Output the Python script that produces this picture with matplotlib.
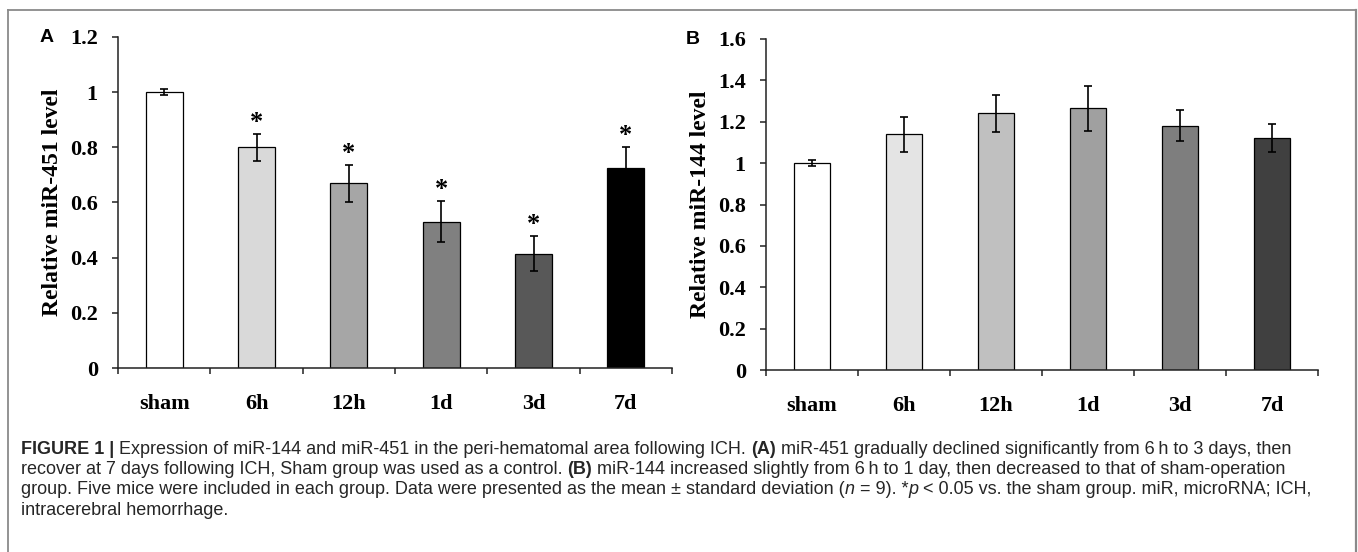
import numpy as np
import matplotlib
matplotlib.use("Agg")
import matplotlib.pyplot as plt
from matplotlib.lines import Line2D

# ---------------- data ----------------
categories = ["sham", "6h", "12h", "1d", "3d", "7d"]

mir451_mean = [1.00, 0.80, 0.67, 0.53, 0.415, 0.725]
mir451_err = [0.011, 0.048, 0.067, 0.075, 0.065, 0.078]
mir451_sig = [False, True, True, True, True, True]
mir451_colors = ["#ffffff", "#d9d9d9", "#a6a6a6", "#808080", "#585858", "#000000"]
mir451_yticks = [0, 0.2, 0.4, 0.6, 0.8, 1.0, 1.2]

mir144_mean = [1.00, 1.14, 1.24, 1.265, 1.18, 1.12]
mir144_err = [0.015, 0.084, 0.09, 0.11, 0.075, 0.067]
mir144_sig = [False, False, False, False, False, False]
mir144_colors = ["#ffffff", "#e4e4e4", "#c0c0c0", "#a0a0a0", "#7e7e7e", "#404040"]
mir144_yticks = [0, 0.2, 0.4, 0.6, 0.8, 1.0, 1.2, 1.4, 1.6]

caption_lines = [
    [("FIGURE 1 | ", "bold", "normal"),
     ("Expression of miR-144 and miR-451 in the peri-hematomal area following ICH. ", "normal", "normal"),
     ("(A)", "bold", "normal"),
     (" miR-451 gradually declined significantly from 6\u2009h to 3 days, then", "normal", "normal")],
    [("recover at 7 days following ICH, Sham group was used as a control. ", "normal", "normal"),
     ("(B)", "bold", "normal"),
     (" miR-144 increased slightly from 6\u2009h to 1 day, then decreased to that of sham-operation", "normal", "normal")],
    [("group. Five mice were included in each group. Data were presented as the mean \u00b1 standard deviation (", "normal", "normal"),
     ("n", "normal", "italic"),
     (" = 9). *", "normal", "normal"),
     ("p", "normal", "italic"),
     (" < 0.05 vs. the sham group. miR, microRNA; ICH,", "normal", "normal")],
    [("intracerebral hemorrhage.", "normal", "normal")],
]

# ---------------- figure ----------------
W, H = 1358, 552
fig = plt.figure(figsize=(W / 100, H / 100), dpi=100)
fig.patch.set_facecolor("white")

SERIF = ["Liberation Serif", "DejaVu Serif"]
SANS = ["Liberation Sans", "DejaVu Sans"]


def px_rect(l, r, top, bottom):
    return [l / W, 1 - bottom / H, (r - l) / W, (bottom - top) / H]


def draw_panel(rect, means, errs, sig, colors, yticks, ylabel, letter, letter_xy):
    ax = fig.add_axes(rect)
    x = np.arange(len(categories))
    ax.bar(x, means, width=0.4, color=colors, edgecolor="black", linewidth=0.9,
           yerr=errs, error_kw=dict(ecolor="black", elinewidth=1.2, capsize=3, capthick=1.2),
           zorder=2)
    for i, (m, e, s) in enumerate(zip(means, errs, sig)):
        if s:
            ax.annotate("*", xy=(i, m + e), xytext=(0, 0), textcoords="offset points",
                        ha="center", va="bottom", fontsize=19, fontweight="bold",
                        family=SERIF)
    ax.set_xlim(-0.5, len(categories) - 0.5)
    ax.set_ylim(yticks[0], yticks[-1])
    ax.set_yticks(yticks)
    ax.set_yticklabels([f"{v:g}" for v in yticks], family=SERIF, fontweight="bold", fontsize=16)
    ax.set_xticks(np.arange(-0.5, len(categories), 1.0))
    ax.set_xticklabels([])
    ax.set_xticks(x, minor=True)
    ax.set_xticklabels(categories, minor=True, family=SERIF, fontweight="bold", fontsize=16)
    ax.tick_params(axis="x", which="minor", length=0, pad=19)
    ax.tick_params(axis="x", which="major", direction="out", length=4.5, width=1.1, color="#222222")
    ax.tick_params(axis="y", direction="out", length=4.5, width=1.1, color="#222222", pad=10)
    for side in ("top", "right"):
        ax.spines[side].set_visible(False)
    for side in ("left", "bottom"):
        ax.spines[side].set_linewidth(1.1)
        ax.spines[side].set_color("#222222")
    ax.set_ylabel(ylabel, family=SERIF, fontweight="bold", fontsize=17)
    ax.yaxis.set_label_coords(-0.1, 0.5)
    ax.set_facecolor("white")
    fig.text(letter_xy[0] / W, 1 - letter_xy[1] / H, letter, family=SANS, fontweight="bold",
             fontsize=14, ha="center", va="center")
    return ax


draw_panel(px_rect(118, 672, 37, 368), mir451_mean, mir451_err, mir451_sig, mir451_colors,
           mir451_yticks, "Relative miR-451 level", "A", (47, 38))
draw_panel(px_rect(766, 1318, 39, 370), mir144_mean, mir144_err, mir144_sig, mir144_colors,
           mir144_yticks, "Relative miR-144 level", "B", (693, 40))

# ---------------- border ----------------
bc = "#8a8a8a"
fig.add_artist(Line2D([8 / W, 1356 / W], [1 - 10 / H, 1 - 10 / H], color=bc, lw=1.3,
                      transform=fig.transFigure))
fig.add_artist(Line2D([8 / W, 8 / W], [1 - 10 / H, 0], color=bc, lw=1.3, transform=fig.transFigure))
fig.add_artist(Line2D([1356 / W, 1356 / W], [1 - 10 / H, 0], color=bc, lw=1.6,
                      transform=fig.transFigure))

# ---------------- caption ----------------
renderer = fig.canvas.get_renderer()
cap_color = "#262626"


def line_width(runs, size):
    total = 0
    for txt, wt, st in runs:
        t = fig.text(0, 0, txt, family=SANS, fontweight=wt, fontstyle=st, fontsize=size)
        total += t.get_window_extent(renderer).width
        t.remove()
    return total


target = 1293 - 21
base = 10.0
size = base * target / line_width(caption_lines[0], base)

y_lines = [449, 469.5, 490, 510.5]
for runs, yp in zip(caption_lines, y_lines):
    xp = 21.0
    for txt, wt, st in runs:
        t = fig.text(xp / W, 1 - yp / H, txt, family=SANS, fontweight=wt, fontstyle=st,
                     fontsize=size, color=cap_color, ha="left", va="center")
        xp += t.get_window_extent(renderer).width

fig.savefig("out.png", dpi=100, facecolor="white")
